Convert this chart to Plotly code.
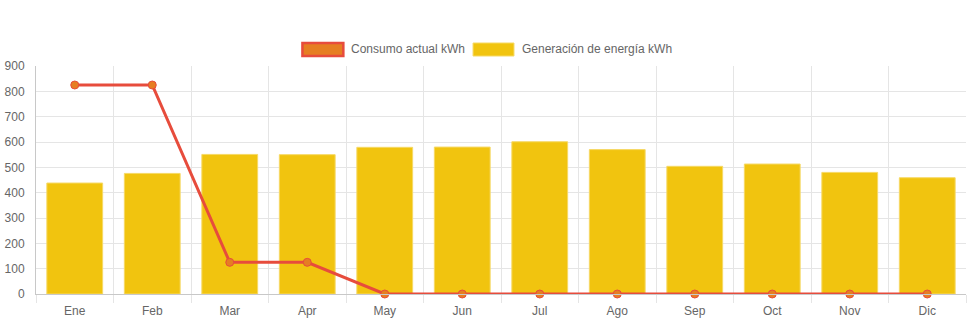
import plotly.graph_objects as go

# Monthly energy data (kWh)
meses = ["Ene", "Feb", "Mar", "Apr", "May", "Jun", "Jul", "Ago", "Sep", "Oct", "Nov", "Dic"]
consumo_actual = [825, 825, 125, 125, 0, 0, 0, 0, 0, 0, 0, 0]
generacion = [438, 476, 551, 550, 579, 580, 601, 570, 504, 513, 480, 459]

serie_consumo = "Consumo actual kWh"
serie_generacion = "Generación de energía kWh"

y_ticks = list(range(0, 901, 100))

W, H = 971, 323
M_L, M_R, M_T, M_B = 34, 5, 66, 29

FONT = "Liberation Sans, Arial, Helvetica, sans-serif"
GRID = "#e5e5e5"
AXIS = "#c8c8c8"
TXT = "#666666"

fig = go.Figure()

fig.add_trace(go.Bar(
    x=meses, y=generacion, name=serie_generacion,
    marker=dict(color="#f1c40f", line=dict(color="#f6d965", width=1)),
    showlegend=False, hoverinfo="x+y",
))

fig.add_trace(go.Scatter(
    x=meses, y=consumo_actual, name=serie_consumo, mode="lines+markers",
    line=dict(color="#e74c3c", width=3),
    marker=dict(size=8, color="#e67e22", line=dict(color="#e74c3c", width=1)),
    cliponaxis=False, showlegend=False,
))

# Legend drawn as boxes + labels centred above the plot
def px_x(p):
    return (p - M_L) / (W - M_L - M_R)

def px_y(p):
    return 1 - (p - M_T) / (H - M_T - M_B)

legend = [
    (serie_consumo, 301, "#e67e22", "#e74c3c", 2.5),
    (serie_generacion, 472, "#f1c40f", "#f6d965", 1),
]
for label, x0, fill, border, bw in legend:
    fig.add_shape(type="rect", xref="paper", yref="paper",
                  x0=px_x(x0), x1=px_x(x0 + 41), y0=px_y(56), y1=px_y(43),
                  fillcolor=fill, line=dict(color=border, width=bw))
    fig.add_annotation(xref="paper", yref="paper", x=px_x(x0 + 47), y=px_y(49.5),
                       text=label, showarrow=False, xanchor="left", yanchor="middle",
                       font=dict(family=FONT, size=12, color=TXT))

fig.update_layout(
    width=W, height=H,
    margin=dict(l=M_L, r=M_R, t=M_T, b=M_B),
    paper_bgcolor="white", plot_bgcolor="white",
    bargap=0.28,
    font=dict(family=FONT, size=12, color=TXT),
    showlegend=False,
    hovermode="closest",
)

fig.update_xaxes(
    type="category", range=[-0.5, len(meses) - 0.5],
    tickson="boundaries", ticks="outside", ticklen=8,
    tickcolor=GRID, showgrid=True, gridcolor=GRID, gridwidth=1,
    showline=True, linecolor=AXIS, linewidth=1,
    ticklabelstandoff=6,
    tickfont=dict(family=FONT, size=12, color=TXT),
)
fig.update_yaxes(
    range=[0, 900], tickvals=y_ticks, showgrid=True, gridcolor=GRID,
    zeroline=False, showline=True, linecolor=AXIS, linewidth=1,
    ticks="", ticklabelstandoff=8,
    tickfont=dict(family=FONT, size=12, color=TXT),
)

fig.write_html("out.html")
